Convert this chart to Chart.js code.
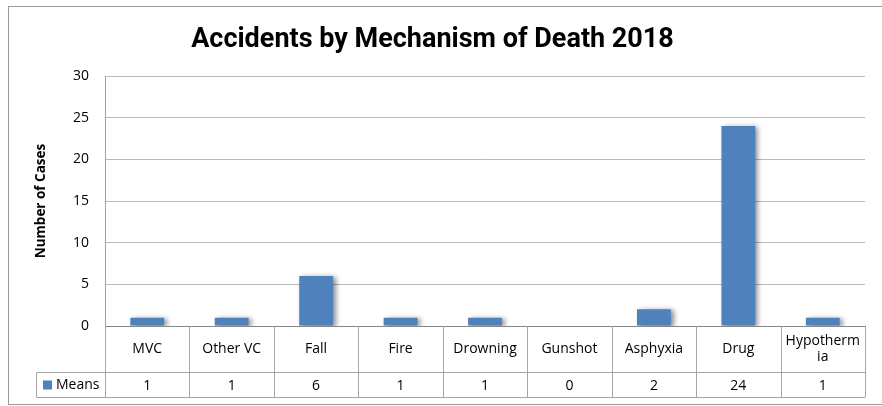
<!DOCTYPE html>
<html>
<head>
<meta charset="utf-8">
<script src="https://cdn.jsdelivr.net/npm/chart.js@4"></script>
<style>
  html, body { margin: 0; padding: 0; background: #fff; }
  #wrap { width: 882px; height: 406px; }
</style>
</head>
<body>
<div id="wrap"><canvas id="chart" width="882" height="406"></canvas></div>
<script>
// chart data
const categories = ['MVC', 'Other VC', 'Fall', 'Fire', 'Drowning', 'Gunshot', 'Asphyxia', 'Drug', 'Hypothermia'];
const means = [1, 1, 6, 1, 1, 0, 2, 24, 1];
const seriesName = 'Means';
const yTicks = [0, 5, 10, 15, 20, 25, 30];

const FONT = '"Open Sans", "Noto Sans", sans-serif';
const TITLE_FONT = 'Roboto, "Open Sans", sans-serif';
const BAR_COLOR = '#4F81BD';
const LINE_COLOR = '#a6a6a6';

// split a label into lines that fit the column
function wrapLabel(ctx, text, maxW) {
    const lines = [];
    let cur = '';
    for (const ch of text) {
        if (cur && ctx.measureText(cur + ch).width > maxW) {
            lines.push(cur);
            cur = ch;
        } else {
            cur += ch;
        }
    }
    if (cur) lines.push(cur);
    return lines;
}

// outer frame of the chart
const framePlugin = {
    id: 'frame',
    beforeDraw(chart) {
        const ctx = chart.ctx;
        ctx.save();
        ctx.fillStyle = '#fff';
        ctx.fillRect(0, 0, chart.width, chart.height);
        ctx.strokeStyle = '#9a9a9a';
        ctx.lineWidth = 1;
        ctx.strokeRect(8.5, 6.5, chart.width + 10, chart.height - 8);
        ctx.restore();
    }
};

// soft shadow under the bars
const shadowPlugin = {
    id: 'barShadow',
    beforeDatasetsDraw(chart) {
        const ctx = chart.ctx;
        ctx.save();
        ctx.shadowColor = 'rgba(0,0,0,0.45)';
        ctx.shadowBlur = 5;
        ctx.shadowOffsetX = 3;
        ctx.shadowOffsetY = 1;
    },
    afterDatasetsDraw(chart) {
        chart.ctx.restore();
    }
};

// data table under the x axis
const tablePlugin = {
    id: 'dataTable',
    afterDraw(chart) {
        const ctx = chart.ctx;
        const x = chart.scales.x;
        const area = chart.chartArea;
        const n = categories.length;
        const colW = (area.right - area.left) / n;
        const top = Math.round(area.bottom) + 0.5;
        const mid = top + 46;
        const bot = mid + 25;
        const legLeft = 36.5;

        ctx.save();
        ctx.strokeStyle = LINE_COLOR;
        ctx.lineWidth = 1;
        ctx.beginPath();
        for (let i = 0; i <= n; i++) {
            const xx = Math.round(area.left + i * colW) + 0.5;
            ctx.moveTo(xx, top);
            ctx.lineTo(xx, bot);
        }
        ctx.moveTo(legLeft, mid);
        ctx.lineTo(area.right, mid);
        ctx.moveTo(legLeft, bot);
        ctx.lineTo(area.right, bot);
        ctx.moveTo(legLeft, mid);
        ctx.lineTo(legLeft, bot);
        ctx.stroke();

        ctx.fillStyle = '#000';
        ctx.font = '14px ' + FONT;
        ctx.textAlign = 'center';
        ctx.textBaseline = 'middle';
        categories.forEach((c, i) => {
            const cx = x.getPixelForValue(i);
            const lines = wrapLabel(ctx, c, colW - 9);
            const lh = 16;
            const y0 = (top + mid) / 2 - (lines.length - 1) * lh / 2;
            lines.forEach((l, j) => ctx.fillText(l, cx, y0 + j * lh));
            ctx.fillText(String(means[i]), cx, (mid + bot) / 2 + 1);
        });

        // legend key
        ctx.fillStyle = BAR_COLOR;
        ctx.fillRect(43, (mid + bot) / 2 - 4.5, 9, 9);
        ctx.fillStyle = '#000';
        ctx.textAlign = 'left';
        ctx.fillText(seriesName, 56, (mid + bot) / 2);
        ctx.restore();
    }
};

new Chart(document.getElementById('chart'), {
    type: 'bar',
    data: {
        labels: categories,
        datasets: [{
            label: seriesName,
            data: means,
            backgroundColor: BAR_COLOR,
            borderWidth: 0,
            categoryPercentage: 1,
            barPercentage: 0.4
        }]
    },
    options: {
        responsive: false,
        animation: false,
        layout: { padding: { left: 0, right: 17, top: 0, bottom: 80 } },
        plugins: {
            legend: { display: false },
            tooltip: { enabled: false },
            title: {
                display: true,
                text: 'Accidents by Mechanism of Death 2018',
                color: '#000',
                font: { family: TITLE_FONT, size: 27, weight: 'bold' },
                padding: { top: 24, bottom: 19.6 }
            }
        },
        scales: {
            x: {
                grid: { display: false, drawTicks: false },
                border: { display: true, color: '#868686' },
                ticks: { display: false }
            },
            y: {
                min: 0,
                max: 30,
                afterBuildTicks: (scale) => {
                    scale.ticks = yTicks.map(v => ({ value: v }));
                },
                afterFit: (scale) => { scale.width = 105; },
                grid: {
                    drawTicks: false,
                    color: (c) => (c.tick && c.tick.value === 0) ? '#868686' : '#b9b9b9'
                },
                border: { display: true, color: '#a0a0a0' },
                ticks: {
                    color: '#000',
                    padding: 16,
                    font: { family: FONT, size: 14 }
                },
                title: {
                    display: true,
                    text: 'Number of Cases',
                    color: '#000',
                    font: { family: FONT, size: 13.5, weight: 'bold' },
                    padding: { top: 33, bottom: 0 }
                }
            }
        }
    },
    plugins: [framePlugin, shadowPlugin, tablePlugin]
});
</script>
</body>
</html>
